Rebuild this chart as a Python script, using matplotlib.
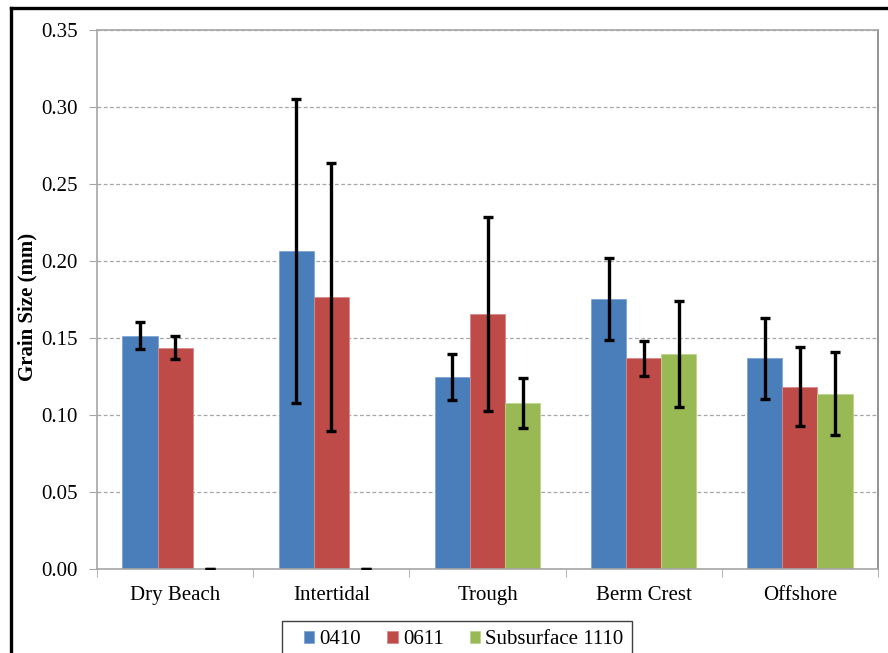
import numpy as np
import matplotlib
matplotlib.use("Agg")
import matplotlib.pyplot as plt
from matplotlib.lines import Line2D
from matplotlib.patches import Rectangle

# data
sites = ["Dry Beach", "Intertidal", "Trough", "Berm Crest", "Offshore"]
series = ["0410", "0611", "Subsurface 1110"]
mean_0410 = [0.1515, 0.2065, 0.1245, 0.1753, 0.1368]
mean_0611 = [0.1437, 0.1768, 0.1654, 0.1368, 0.1184]
mean_1110 = [0.0, 0.0, 0.1080, 0.1396, 0.1139]
sd_0410 = [0.0087, 0.0990, 0.0150, 0.0268, 0.0265]
sd_0611 = [0.0073, 0.0870, 0.0630, 0.0113, 0.0257]
sd_1110 = [0.0, 0.0, 0.0163, 0.0342, 0.0270]
y_ticks = [0.00, 0.05, 0.10, 0.15, 0.20, 0.25, 0.30, 0.35]

colors = ["#4A7EBB", "#BE4B48", "#98B954"]
edges = ["#7FA5D6", "#D98A88", "#BCD38E"]

plt.rcParams['font.family'] = ['Liberation Serif', 'DejaVu Serif']

fig = plt.figure(figsize=(8.88, 6.53), dpi=100)
ax = fig.add_axes([97/888, 84/653, 781/888, 539/653])

x = np.arange(len(sites))
w = 0.225
means = [mean_0410, mean_0611, mean_1110]
sds = [sd_0410, sd_0611, sd_1110]

for i in range(3):
    pos = x + (i - 1) * w
    ax.bar(pos, means[i], width=w, color=colors[i], edgecolor=edges[i],
           linewidth=0.6, label=series[i], zorder=2)
    ax.errorbar(pos, means[i], yerr=sds[i], fmt='none', ecolor='black',
                elinewidth=2.4, capsize=3.8, capthick=2.4, zorder=3)

ax.set_xlim(-0.5, len(sites) - 0.5)
ax.set_ylim(0, 0.35)
ax.set_yticks(y_ticks)
ax.set_yticklabels([f"{v:.2f}" for v in y_ticks])
ax.yaxis.grid(True, linestyle=(0, (3, 2)), color='#A6A6A6', linewidth=0.9, zorder=0)
ax.set_axisbelow(True)

# category labels at centres, tick marks at boundaries
ax.set_xticks(x)
ax.set_xticklabels(sites)
ax.set_xticks(np.arange(len(sites) + 1) - 0.5, minor=True)
ax.tick_params(axis='x', which='major', length=0, pad=12, labelsize=15)
ax.tick_params(axis='x', which='minor', length=6, color='#A6A6A6', direction='out')
ax.tick_params(axis='y', length=6, color='#A6A6A6', direction='out', pad=8, labelsize=15)

for s in ax.spines.values():
    s.set_color('#A6A6A6')
    s.set_linewidth(1.2)
ax.spines['right'].set_color('#808080')

fig.text(27/888, (653 - 307)/653, "Grain Size (mm)", rotation=90, fontsize=15,
         fontweight='bold', ha='center', va='center')

# legend: frameless entries inside a hand-placed box (box runs off the bottom)
fig.legend(loc='center left', bbox_to_anchor=(304/888, (653 - 640)/653),
           ncol=3, fontsize=15, frameon=False,
           handlelength=0.5, handleheight=0.5, handletextpad=0.25,
           columnspacing=1.25, borderpad=0, borderaxespad=0)
fig.add_artist(Rectangle((282/888, -0.05), (632 - 282)/888, 0.05 + (653 - 621)/653,
                         transform=fig.transFigure, facecolor='none',
                         edgecolor='#404040', linewidth=1.0))

# outer chart border (left and top visible)
fig.add_artist(Line2D([11/888, 11/888], [0, 1 - 8/653], color='black', linewidth=2.4,
                      transform=fig.transFigure))
fig.add_artist(Line2D([11/888, 1], [1 - 8/653, 1 - 8/653], color='black', linewidth=2.4,
                      transform=fig.transFigure))

fig.savefig("out.png", dpi=100)
